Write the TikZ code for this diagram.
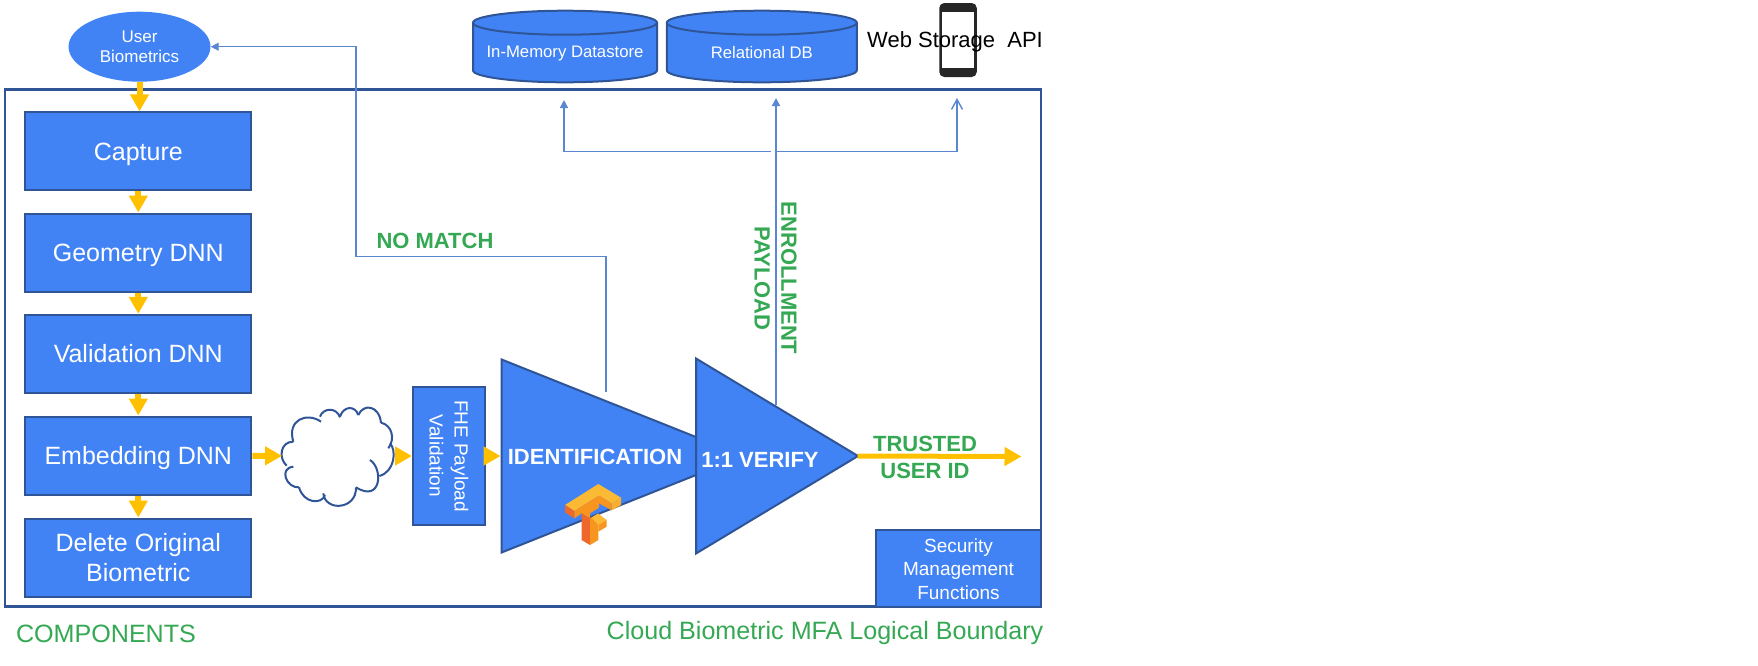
\documentclass[tikz,border=0pt]{standalone}
\usepackage{fontspec}
\setmainfont{Liberation Sans}
\usetikzlibrary{arrows.meta,shapes.geometric}
\definecolor{boxblue}{HTML}{4183F5}
\definecolor{edgeblue}{HTML}{2F5597}
\definecolor{linkblue}{HTML}{5B86D0}
\definecolor{flowyellow}{HTML}{FFC000}
\definecolor{labelgreen}{HTML}{34A853}
\definecolor{tflight}{HTML}{FBB934}
\definecolor{tfmid}{HTML}{F7951F}
\definecolor{tfdark}{HTML}{EE682C}
\newcommand{\storedrum}[2]{%
  \draw [edgeblue,line width=2pt,fill=boxblue] (#1-#2,22.7) -- (#1-#2,70.3)
    arc [start angle=180,end angle=360,x radius=#2pt,y radius=12pt] -- (#1+#2,22.7)
    arc [start angle=0,end angle=180,x radius=#2pt,y radius=12pt] -- cycle;
  \draw [edgeblue,line width=2pt] (#1-#2,22.7) arc [start angle=180,end angle=360,x radius=#2pt,y radius=12pt];
}
\tikzset{
  stepbox/.style={draw=edgeblue,line width=2pt,fill=boxblue,text=white,inner sep=0pt,align=center,
    font=\fontsize{25}{29.7}\selectfont,minimum width=226pt,minimum height=78pt},
  oneline/.style={text height=18pt,text depth=0pt},
  smallbox/.style={draw=edgeblue,line width=2pt,fill=boxblue,text=white,inner sep=0pt,align=center,
    font=\fontsize{19}{23.5}\selectfont},
  storebox/.style={text=white,inner sep=0pt,font=\fontsize{16.7}{20}\selectfont,minimum height=47pt},
  funnel/.style={isosceles triangle,isosceles triangle stretches,draw=edgeblue,line width=2pt,fill=boxblue,inner sep=0pt,anchor=lower side},
  funneltext/.style={text=white,inner sep=0pt,font=\bfseries\fontsize{22}{26}\selectfont},
  greentext/.style={text=labelgreen,inner sep=0pt,align=center,font=\bfseries\fontsize{22}{26.7}\selectfont},
  plaingreen/.style={text=labelgreen,inner sep=0pt,font=\fontsize{25.1}{30}\selectfont},
  flow/.style={draw=flowyellow,line width=6pt,-{Triangle[length=17pt,width=18pt]}},
  link/.style={draw=linkblue,line width=1.4pt},
  linkend/.style={link,-{Triangle[length=8pt,width=8pt]}},
  openend/.style={link,-{Straight Barb[length=10pt,width=11pt]}}
}
\begin{document}
\begin{tikzpicture}[x=1pt,y=-1pt]
  \useasboundingbox (0,0) rectangle (1758,665);
  \draw [edgeblue,line width=2.5pt] (5,89.5) rectangle (1041,606.5);

  \node (biometrics) [ellipse,fill=boxblue,text=white,inner sep=0pt,align=center,minimum width=142pt,minimum height=70pt,
    font=\fontsize{17}{20}\selectfont] at (139.5,46.7) {User\\Biometrics};
  \node (capture) [stepbox,oneline] at (138.3,151.3) {Capture};
  \node (geometry) [stepbox,oneline] at (138.3,252.5) {Geometry DNN};
  \node (validation) [stepbox,oneline] at (138.3,353.8) {Validation DNN};
  \node (embedding) [stepbox,oneline] at (138.3,455.5) {Embedding DNN};
  \node (delete) [stepbox] at (138.3,557.5) {Delete Original\\Biometric};

  % cloud outline
  \node (cloud) [inner sep=0pt,minimum width=112pt,minimum height=99pt] at (338.3,456) {};
  \begin{scope}[shift={(275,400)},x=0.3333pt,y=-0.3333pt,draw=edgeblue,line width=2pt]
    \draw (55,125) .. controls (35,60) and (95,35) .. (138,65);
    \draw (135,50) .. controls (145,22) and (185,22) .. (195,52);
    \draw (195,50) .. controls (205,18) and (240,15) .. (250,45);
    \draw (250,45) .. controls (265,10) and (312,15) .. (318,68);
    \draw (318,68) .. controls (350,75) and (362,115) .. (340,145);
    \draw (345,130) .. controls (365,150) and (360,215) .. (313,228);
    \draw (285,180) .. controls (325,205) and (320,310) .. (243,262);
    \draw (243,262) .. controls (245,330) and (150,335) .. (145,280);
    \draw (150,285) .. controls (140,315) and (85,310) .. (72,262);
    \draw (72,262) .. controls (35,265) and (10,205) .. (55,200);
    \draw (35,197) .. controls (10,175) and (15,125) .. (55,125);
  \end{scope}

  \node (fhe) [smallbox,rotate=-90,font=\fontsize{19}{25}\selectfont,minimum width=138pt,minimum height=72pt] at (449,456) {FHE Payload\\Validation};
  \node (identify) [funnel,minimum height=242pt,minimum width=193pt] at (500.6,456) {};
  \node (verify) [funnel,minimum height=162pt,minimum width=195pt] at (695,456) {};
  \node (identifytext) [funneltext] at (595,457) {IDENTIFICATION};
  \node (verifytext) [funneltext] at (760,460) {1:1 VERIFY};

  % tensorflow logo
  \begin{scope}[shift={(555,475)},x=0.3333pt,y=-0.3333pt]
    \fill [tflight] (30,90) -- (130,27) -- (198,68) -- (170,85) -- (132,62) -- (58,108) -- cycle;
    \fill [tfdark] (30,90) -- (58,108) -- (58,130) -- (30,112) -- cycle;
    \fill [tfmid] (58,108) -- (132,62) -- (132,98) -- (105,115) -- (105,130) -- (80,115) -- (58,130) -- cycle;
    \fill [tfmid] (132,62) -- (170,85) -- (170,106) -- (132,85) -- cycle;
    \fill [tflight!70!tfmid] (170,85) -- (198,68) -- (198,90) -- (170,106) -- cycle;
    \fill [tfdark] (80,115) -- (105,130) -- (105,210) -- (80,195) -- cycle;
    \fill [tfmid] (105,130) -- (130,115) -- (130,195) -- (105,210) -- cycle;
    \fill [tflight] (110,128) -- (130,116) -- (155,135) -- (130,150) -- cycle;
    \fill [tfmid] (130,150) -- (155,135) -- (155,155) -- (130,170) -- cycle;
  \end{scope}

  \storedrum{565}{92}
  \storedrum{761.8}{95}
  \node (memory) [storebox,minimum width=184pt] at (565,53) {In-Memory Datastore};
  \node (relational) [storebox,minimum width=190pt] at (761.8,53) {Relational DB};

  \node (phone) [fill=black!85,rounded corners=5pt,inner sep=0pt,minimum width=37.5pt,minimum height=74pt] at (958,40) {};
  \node (screen) [fill=white,inner sep=0pt,minimum width=32pt,minimum height=56pt] at (958.3,40.3) {};
  \node (webstorage) [inner sep=0pt,font=\fontsize{22}{26}\selectfont] at (955,41.5) {Web Storage\ \ API};

  \node (security) [smallbox,minimum width=165pt,minimum height=77pt] at (958.5,568.7) {Security\\Management\\Functions};

  \draw [flow] (biometrics.south) -- (biometrics.south |- capture.north);
  \draw [flow] (capture) -- (geometry);
  \draw [flow] (geometry) -- (validation);
  \draw [flow] (validation) -- (embedding);
  \draw [flow] (embedding) -- (delete);
  \draw [flow] (embedding) -- (cloud);
  \draw [flow] (cloud.east) -- (fhe.south);
  \draw [flow] (fhe.north) -- (identify.lower side);
  \coordinate (trusted) at (1021.5,456.5);
  \draw [flow,line width=5pt,shorten <=-3pt] (verify.apex) -- (trusted);

  \coordinate (nomatchstart) at (606,392);
  \coordinate (enrollstart) at (776,405);
  \coordinate (enrollsplit) at (776,151.7);
  \coordinate (memorytip) at (564,100);
  \coordinate (relationaltip) at (776,98);
  \coordinate (phonetip) at (957,98);
  \draw [linkend] (nomatchstart) -- (606,256.7) -- (356,256.7) |- (biometrics.east);
  \draw [linkend] (enrollstart) -- (relationaltip);
  \draw [linkend] (771,151.7) -| (memorytip);
  \draw [openend] (enrollsplit) -| (phonetip);

  \node (nomatch) [greentext] at (435,241) {NO MATCH};
  \node (enrollment) [greentext,rotate=-90] at (775.5,278) {ENROLLMENT\\PAYLOAD};
  \node (trustedid) [greentext] at (925,457.3) {TRUSTED\\USER ID};
  \node (components) [plaingreen] at (106,634) {COMPONENTS};
  \node (boundary) [plaingreen] at (825,632.5) {Cloud Biometric MFA Logical Boundary};
\end{tikzpicture}
\end{document}
